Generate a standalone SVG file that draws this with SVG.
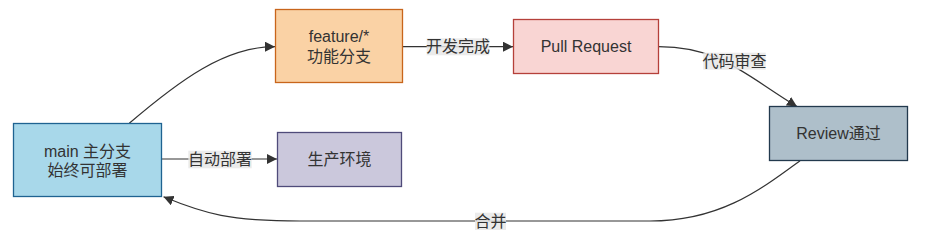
<svg xmlns="http://www.w3.org/2000/svg" width="937" height="246" viewBox="0 0 937 246">
<style>
text{font-family:"Liberation Sans","Noto Sans CJK SC",sans-serif;font-size:16px;fill:#333;text-anchor:middle;}
.node rect{stroke-width:1.3;}
.edge{fill:none;stroke:#333;stroke-width:1.2;}
.lbg{fill:#e8e8e8;opacity:0.85;}
</style>
<defs>
<marker id="arr" viewBox="0 0 10 10" refX="10" refY="5" markerWidth="10" markerHeight="10" markerUnits="userSpaceOnUse" orient="auto">
<path d="M0,0 L10,5 L0,10 z" fill="#333"/>
</marker>
</defs>
<g id="connectors">
<path class="edge" d="M129.3,123.3 C180,80 225,46.7 275,46.7" marker-end="url(#arr)"/>
<path class="edge" d="M402.7,46.7 L513,46.7" marker-end="url(#arr)"/>
<path class="edge" d="M658.7,46.7 C720,46.7 745,75 797,106.5" marker-end="url(#arr)"/>
<path class="edge" d="M161.7,159 L277,159" marker-end="url(#arr)"/>
<path class="edge" d="M800,160.7 C760,190 720,221 650,221 L300,221 C230,221 205,214 163.5,196.8" marker-end="url(#arr)"/>
<rect class="lbg" x="426.7" y="38.3" width="62.6" height="17"/>
<text x="458" y="52">开发完成</text>
<rect class="lbg" x="703.3" y="52.7" width="62.4" height="17"/>
<text x="734.5" y="66.5">代码审查</text>
<rect class="lbg" x="188.3" y="150.7" width="63.4" height="17.6"/>
<text x="220" y="164.5">自动部署</text>
<rect class="lbg" x="475" y="212.7" width="31" height="17.3"/>
<text x="490.5" y="226.5">合并</text>
</g>
<g id="main" class="node">
<rect x="13.5" y="123.5" width="148" height="73" fill="#a8d8ea" stroke="#1f6391"/>
<text x="87.5" y="157">main 主分支</text>
<text x="87.5" y="176">始终可部署</text>
</g>
<g id="feature" class="node">
<rect x="275.5" y="9.5" width="127" height="73" fill="#fad2a5" stroke="#c8651b"/>
<text x="339" y="42">feature/*</text>
<text x="339" y="61.5">功能分支</text>
</g>
<g id="prod" class="node">
<rect x="277.5" y="132.5" width="124" height="54" fill="#cbc8dc" stroke="#4f4b7a"/>
<text x="339.5" y="165">生产环境</text>
</g>
<g id="pr" class="node">
<rect x="513.5" y="19.5" width="145" height="54" fill="#f9d5d3" stroke="#b5403a"/>
<text x="586" y="52">Pull Request</text>
</g>
<g id="review" class="node">
<rect x="769.5" y="106.5" width="138" height="54" fill="#aebfca" stroke="#22394d"/>
<text x="838.5" y="139">Review通过</text>
</g>
</svg>
